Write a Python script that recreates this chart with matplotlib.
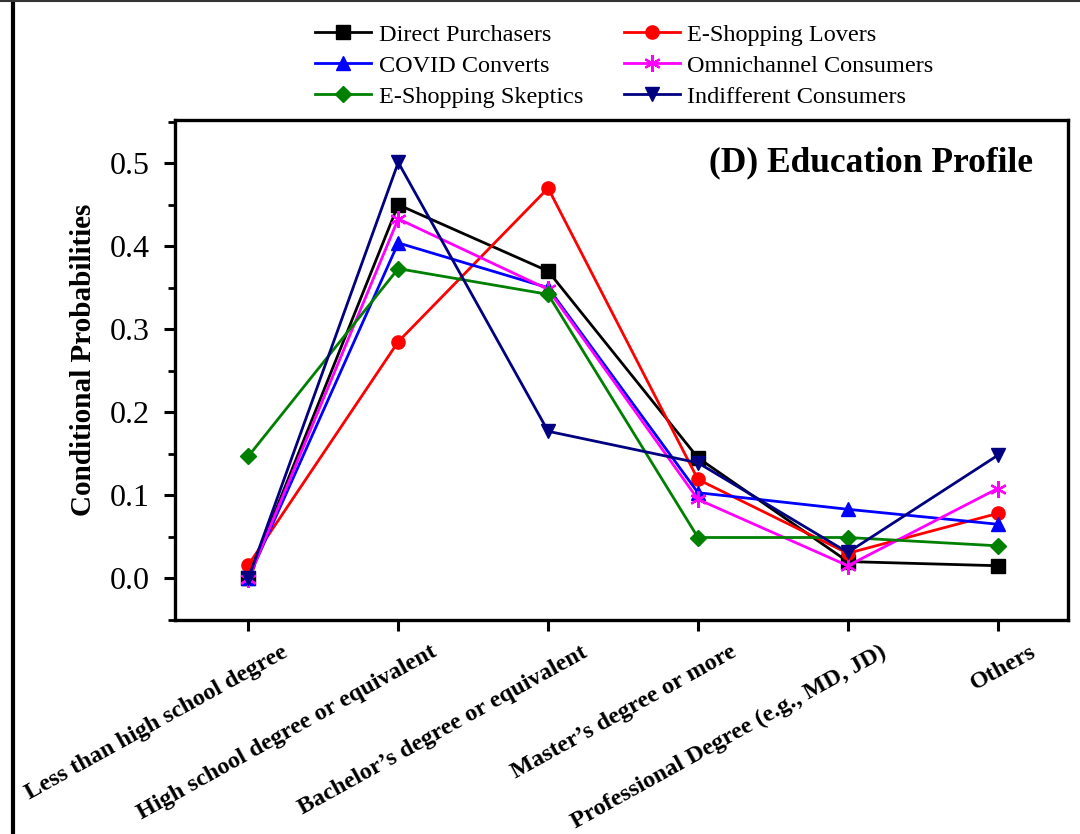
import matplotlib.pyplot as plt
from matplotlib.lines import Line2D
from matplotlib.ticker import MultipleLocator
from matplotlib.transforms import ScaledTranslation
import numpy as np

plt.rcParams['font.family'] = ['Liberation Serif', 'DejaVu Serif']

categories = ["Less than high school degree", "High school degree or equivalent",
              "Bachelor’s degree or equivalent", "Master’s degree or more",
              "Professional Degree (e.g., MD, JD)", "Others"]

direct_purchasers = [0.0, 0.450, 0.370, 0.145, 0.020, 0.015]
eshopping_lovers = [0.016, 0.285, 0.470, 0.119, 0.030, 0.078]
covid_converts = [0.0, 0.404, 0.350, 0.103, 0.083, 0.065]
omnichannel = [-0.001, 0.433, 0.348, 0.095, 0.015, 0.108]
eshopping_skeptics = [0.147, 0.373, 0.342, 0.049, 0.049, 0.039]
indifferent = [0.0, 0.501, 0.177, 0.139, 0.031, 0.148]

series = [
    ("Direct Purchasers", direct_purchasers, "black", "s"),
    ("E-Shopping Lovers", eshopping_lovers, "red", "o"),
    ("COVID Converts", covid_converts, "blue", "^"),
    ("Omnichannel Consumers", omnichannel, "magenta", "*"),
    ("E-Shopping Skeptics", eshopping_skeptics, "green", "D"),
    ("Indifferent Consumers", indifferent, "navy", "v"),
]

fig = plt.figure(figsize=(10.8, 8.34), dpi=100)
ax = fig.add_axes([0.162, 0.257, 0.827, 0.599])

x = np.arange(len(categories))
handles = []
for name, vals, col, mk in series:
    if mk == "*":
        # asterisk-like marker for omnichannel
        h, = ax.plot(x, vals, color=col, lw=2, marker=(6, 2, 0), ms=12, mew=1.6, label=name)
    else:
        ms = 8.5 if mk == "D" else 9.5
        h, = ax.plot(x, vals, color=col, lw=2, marker=mk, ms=ms, label=name)
    handles.append(h)

ax.set_xlim(-0.49, 5.47)
ax.set_ylim(-0.05, 0.552)
ax.yaxis.set_major_locator(MultipleLocator(0.1))
ax.yaxis.set_minor_locator(MultipleLocator(0.05))
ax.set_yticks([0.0, 0.1, 0.2, 0.3, 0.4, 0.5])
ax.set_yticklabels(["0.0", "0.1", "0.2", "0.3", "0.4", "0.5"], fontsize=23)
ax.set_xticks(x)
ax.set_xticklabels([])

# rotated category labels, placed by hand relative to each tick
lab_tr = ax.get_xaxis_transform() + ScaledTranslation(0.40, -0.36, fig.dpi_scale_trans)
for i, cat in enumerate(categories):
    ax.text(i, 0, cat, transform=lab_tr, ha='right', va='baseline', rotation=29,
            rotation_mode='anchor', fontsize=17.5, fontweight='bold')

ax.tick_params(axis='both', which='major', direction='out', length=8, width=2.2)
ax.tick_params(axis='y', which='major', pad=10)
ax.tick_params(axis='y', which='minor', direction='out', length=5, width=2)
for s in ax.spines.values():
    s.set_linewidth(2.4)

ax.set_ylabel("Conditional Probabilities", fontsize=21, fontweight='bold')
ax.yaxis.set_label_coords(-0.087, 0.52)
ax.text(0.961, 0.914, "(D) Education Profile", transform=ax.transAxes,
        ha='right', va='center', fontsize=25.5, fontweight='bold')

# row-wise legend order
order = [0, 2, 4, 1, 3, 5]
fig.legend([handles[i] for i in order], [series[i][0] for i in order],
           loc='upper left', bbox_to_anchor=(0.283, 0.983), ncol=2, frameon=False,
           fontsize=17.5, handlelength=2.3, handletextpad=0.3, columnspacing=1.7,
           labelspacing=0.37, borderaxespad=0)

# screenshot border lines
fig.add_artist(Line2D([0.012, 0.012], [0, 1], color='black', lw=3, transform=fig.transFigure))
fig.add_artist(Line2D([0, 1], [0.999, 0.999], color='#333333', lw=1.5, transform=fig.transFigure))

fig.savefig("out.png", dpi=100)
